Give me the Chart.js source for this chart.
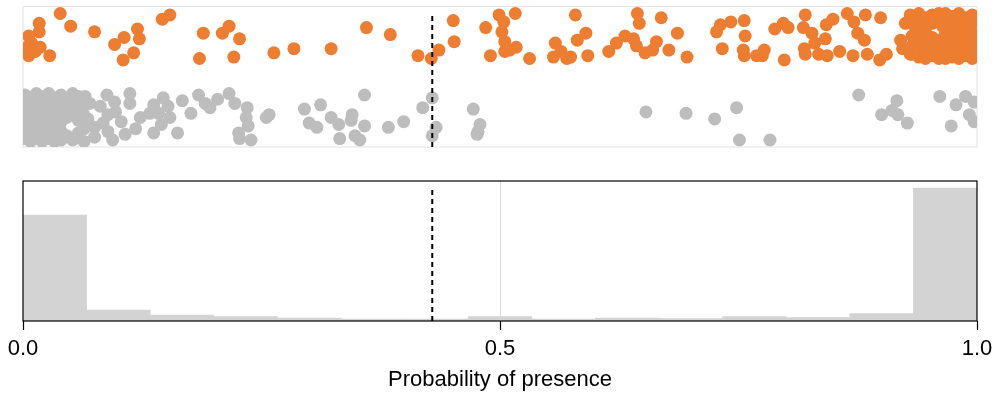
<!DOCTYPE html>
<html>
<head>
<meta charset="utf-8">
<script src="https://cdn.jsdelivr.net/npm/chart.js@4"></script>
<style>
  body { margin: 0; background: #fff; }
  #wrap { position: relative; width: 993px; height: 394px; }
  #strip { position: absolute; left: 0; top: 0; }
  #hist { position: absolute; left: 0; top: 155px; }
</style>
</head>
<body>
<div id="wrap">
  <canvas id="strip" width="993" height="155" style="width:993px;height:155px"></canvas>
  <canvas id="hist" width="993" height="239" style="width:993px;height:239px"></canvas>
</div>
<script>
// cut-off used to split presence / absence
const threshold = 0.429;

// predicted probability of the presence records, with their vertical jitter
const presenceX = [
  0.039, 0.017, 0.017, 0.050, 0.075, 0.006, 0.009, 0.004, 0.006, 0.013,
  0.018, 0.028, 0.096, 0.106, 0.105, 0.116, 0.120, 0.122, 0.146, 0.154,
  0.189, 0.185, 0.209, 0.216, 0.227, 0.221, 0.263, 0.284, 0.323, 0.360,
  0.385, 0.414, 0.428, 0.436, 0.451, 0.452, 0.485, 0.490, 0.499, 0.504,
  0.502, 0.505, 0.505, 0.510, 0.516, 0.517, 0.531, 0.579, 0.590, 0.581,
  0.558, 0.564, 0.556, 0.570, 0.574, 0.592, 0.614, 0.622, 0.631, 0.640,
  0.644, 0.646, 0.643, 0.652, 0.660, 0.664, 0.669, 0.677, 0.686, 0.696,
  0.727, 0.731, 0.742, 0.733, 0.756, 0.757, 0.755, 0.756, 0.769, 0.777,
  0.775, 0.788, 0.797, 0.802, 0.798, 0.820, 0.818, 0.827, 0.819, 0.820,
  0.830, 0.834, 0.841, 0.842, 0.843, 0.849, 0.856, 0.864, 0.870, 0.871,
  0.875, 0.882, 0.883, 0.885, 0.899, 0.898, 0.905, 0.920, 0.922, 0.925,
  0.930, 0.930,
  0.932, 0.932, 0.932, 0.932, 0.932, 0.939, 0.939, 0.939, 0.939, 0.939,
  0.946, 0.946, 0.946, 0.946, 0.946, 0.953, 0.953, 0.953, 0.953, 0.953,
  0.960, 0.960, 0.960, 0.960, 0.960, 0.967, 0.967, 0.967, 0.967, 0.967,
  0.967, 0.974, 0.974, 0.974, 0.974, 0.974, 0.981, 0.981, 0.981, 0.981,
  0.981, 0.981, 0.988, 0.988, 0.988, 0.988, 0.988, 0.995, 0.995, 0.995,
  0.995, 0.995, 0.995, 0.936, 0.950, 0.964, 0.971, 0.978, 0.985, 0.992,
  0.999, 0.943
];
const presenceJitter = [
  0.95, 0.88, 0.82, 0.86, 0.82, 0.79, 0.74, 0.71, 0.65, 0.68,
  0.71, 0.65, 0.73, 0.78, 0.62, 0.67, 0.84, 0.77, 0.91, 0.94,
  0.81, 0.63, 0.81, 0.86, 0.77, 0.64, 0.67, 0.70, 0.70, 0.85,
  0.80, 0.65, 0.63, 0.69, 0.90, 0.75, 0.85, 0.65, 0.94, 0.89,
  0.82, 0.75, 0.68, 0.69, 0.95, 0.71, 0.63, 0.94, 0.81, 0.76,
  0.74, 0.68, 0.64, 0.63, 0.64, 0.65, 0.68, 0.74, 0.79, 0.77,
  0.95, 0.88, 0.72, 0.67, 0.69, 0.75, 0.92, 0.69, 0.81, 0.64,
  0.82, 0.87, 0.89, 0.70, 0.90, 0.79, 0.69, 0.65, 0.65, 0.69,
  0.65, 0.84, 0.88, 0.85, 0.62, 0.94, 0.85, 0.81, 0.70, 0.66,
  0.74, 0.66, 0.77, 0.87, 0.65, 0.91, 0.68, 0.95, 0.65, 0.89,
  0.81, 0.76, 0.94, 0.66, 0.92, 0.62, 0.66, 0.76, 0.70, 0.88,
  0.94, 0.66,
  0.93, 0.88, 0.79, 0.72, 0.66, 0.95, 0.86, 0.77, 0.70, 0.64,
  0.92, 0.82, 0.74, 0.67, 0.63, 0.94, 0.88, 0.78, 0.71, 0.65,
  0.91, 0.76, 0.69, 0.63, 0.95, 0.95, 0.87, 0.81, 0.73, 0.66,
  0.63, 0.93, 0.85, 0.79, 0.71, 0.64, 0.95, 0.89, 0.82, 0.75,
  0.68, 0.63, 0.92, 0.86, 0.78, 0.72, 0.65, 0.94, 0.88, 0.81,
  0.74, 0.68, 0.63, 0.84, 0.90, 0.86, 0.88, 0.74, 0.70, 0.90,
  0.77, 0.89
];

// predicted probability of the absence records, with their vertical jitter
const absenceX = [
  0.112, 0.112, 0.103, 0.107, 0.118, 0.123, 0.133, 0.137, 0.142, 0.147,
  0.152, 0.154, 0.145, 0.137, 0.162, 0.167, 0.176, 0.184, 0.191, 0.196,
  0.204, 0.216, 0.222, 0.235, 0.234, 0.236, 0.226, 0.227, 0.239, 0.255,
  0.258, 0.295, 0.312, 0.300, 0.308, 0.323, 0.331, 0.345, 0.344, 0.332,
  0.348, 0.353, 0.358, 0.358, 0.383, 0.399, 0.419, 0.429, 0.433, 0.429,
  0.472, 0.479, 0.477, 0.476, 0.653, 0.695, 0.725, 0.748, 0.751, 0.783,
  0.876, 0.916, 0.911, 0.900, 0.917, 0.927, 0.961, 0.973, 0.978, 0.988,
  0.992, 0.997, 0.997, 0.065, 0.070, 0.063, 0.075, 0.058, 0.075, 0.081,
  0.088, 0.096, 0.089, 0.084, 0.089, 0.097, 0.094, 0.068,
  0.002, 0.002, 0.002, 0.002, 0.002, 0.002,
  0.008, 0.008, 0.008, 0.008, 0.008, 0.008,
  0.014, 0.014, 0.014, 0.014, 0.014, 0.014,
  0.020, 0.020, 0.020, 0.020, 0.020, 0.020,
  0.027, 0.027, 0.027, 0.027, 0.027, 0.027,
  0.033, 0.033, 0.033, 0.033, 0.033, 0.033,
  0.040, 0.040, 0.040, 0.040, 0.040, 0.040,
  0.046, 0.046, 0.046, 0.046,
  0.052, 0.052, 0.052, 0.052,
  0.058, 0.058, 0.058, 0.058,
  0.064, 0.064, 0.064
];
const absenceJitter = [
  0.38, 0.31, 0.18, 0.09, 0.13, 0.21, 0.24, 0.30, 0.24, 0.35,
  0.29, 0.21, 0.16, 0.10, 0.10, 0.33, 0.24, 0.37, 0.31, 0.28,
  0.34, 0.38, 0.31, 0.28, 0.21, 0.15, 0.10, 0.06, 0.05, 0.21,
  0.23, 0.27, 0.30, 0.17, 0.14, 0.21, 0.16, 0.23, 0.19, 0.06,
  0.08, 0.05, 0.15, 0.37, 0.14, 0.18, 0.28, 0.35, 0.14, 0.08,
  0.27, 0.16, 0.11, 0.09, 0.25, 0.24, 0.20, 0.28, 0.05, 0.05,
  0.37, 0.33, 0.26, 0.23, 0.23, 0.17, 0.36, 0.15, 0.30, 0.36,
  0.23, 0.32, 0.18, 0.36, 0.31, 0.24, 0.14, 0.07, 0.07, 0.29,
  0.37, 0.32, 0.23, 0.17, 0.11, 0.25, 0.05, 0.20,
  0.37, 0.31, 0.24, 0.18, 0.12, 0.06,
  0.35, 0.28, 0.21, 0.15, 0.09, 0.04,
  0.38, 0.32, 0.25, 0.19, 0.13, 0.07,
  0.36, 0.29, 0.22, 0.16, 0.10, 0.04,
  0.38, 0.33, 0.26, 0.19, 0.12, 0.06,
  0.35, 0.29, 0.23, 0.15, 0.09, 0.04,
  0.37, 0.31, 0.25, 0.18, 0.11, 0.05,
  0.34, 0.27, 0.21, 0.08,
  0.38, 0.31, 0.24, 0.05,
  0.36, 0.29, 0.19, 0.10,
  0.33, 0.13, 0.04
];

// histogram of all predictions, 15 equal bins on [0, 1]
const binCounts = [212, 22, 12, 9, 6, 4, 4, 9, 4, 6, 5, 9, 7, 15, 266];
const xTicks = [0, 0.5, 1];

const orange = '#ed7d31';
const grey = '#bdbdbd';
const font = 'Liberation Sans, Arial, Helvetica, sans-serif';
Chart.defaults.font.family = font;

const frame = (color, width, when) => ({
  id: 'frame',
  [when](chart) {
    const { ctx, chartArea: a } = chart;
    ctx.save();
    ctx.strokeStyle = color;
    ctx.lineWidth = width;
    ctx.strokeRect(a.left, a.top, a.right - a.left, a.bottom - a.top);
    ctx.restore();
  }
});

const toPoints = (xs, ys) => xs.map((x, i) => ({ x, y: ys[i] }));
const dashed = { borderColor: '#000', borderWidth: 2, borderDash: [5, 4], pointRadius: 0, fill: false };

new Chart(document.getElementById('strip'), {
  type: 'scatter',
  data: {
    datasets: [
      { ...dashed, showLine: true, data: [{ x: threshold, y: 0 }, { x: threshold, y: 0.957 }] },
      { data: toPoints(presenceX, presenceJitter), backgroundColor: orange, pointRadius: 6.5, borderWidth: 0 },
      { data: toPoints(absenceX, absenceJitter), backgroundColor: grey, pointRadius: 6.5, borderWidth: 0 }
    ]
  },
  options: {
    responsive: false,
    animation: false,
    events: [],
    layout: { padding: { left: 23, right: 16, top: 6, bottom: 8 } },
    plugins: { legend: { display: false }, tooltip: { enabled: false } },
    scales: {
      x: { type: 'linear', display: false, min: 0, max: 1 },
      y: { display: false, min: 0, max: 1 }
    }
  },
  plugins: [frame('#e3e3e3', 1, 'beforeDatasetsDraw')]
});

new Chart(document.getElementById('hist'), {
  type: 'bar',
  data: {
    datasets: [
      { type: 'line', ...dashed, data: [{ x: threshold, y: 0 }, { x: threshold, y: 270 }] },
      {
        data: binCounts.map((c, i) => ({ x: (i + 0.5) / binCounts.length, y: c })),
        backgroundColor: '#d3d3d3',
        barPercentage: 1,
        categoryPercentage: 1
      }
    ]
  },
  options: {
    responsive: false,
    animation: false,
    events: [],
    layout: { padding: { left: 23, right: 16, top: 26, bottom: 3 } },
    plugins: { legend: { display: false }, tooltip: { enabled: false } },
    scales: {
      x: {
        type: 'linear',
        min: 0,
        max: 1,
        offset: false,
        afterBuildTicks: s => { s.ticks = xTicks.map(v => ({ value: v })); },
        afterFit: s => { s.paddingLeft = 0; s.paddingRight = 0; },
        grid: {
          offset: false,
          color: c => (c.tick && c.tick.value === 0.5 ? '#dedede' : 'rgba(0,0,0,0)'),
          tickColor: '#000',
          tickLength: 9,
          tickWidth: 1.2
        },
        border: { display: false },
        ticks: { color: '#000', padding: 8, font: { size: 22, lineHeight: 1 }, callback: v => v.toFixed(1) },
        title: { display: true, text: 'Probability of presence', color: '#000', font: { size: 22, lineHeight: 1 }, padding: { top: 1, bottom: 0 } }
      },
      y: { display: false, min: 0, max: 280 }
    }
  },
  plugins: [frame('#000', 1.2, 'afterDatasetsDraw')]
});
</script>
</body>
</html>
